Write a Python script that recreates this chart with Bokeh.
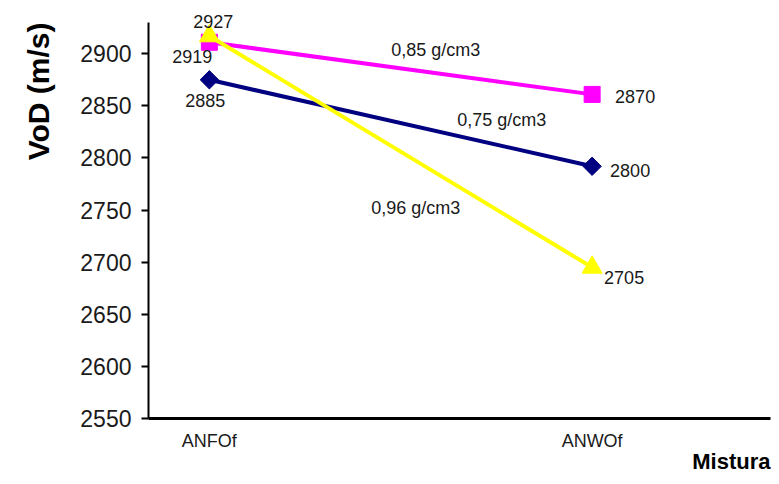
import math
from bokeh.plotting import figure
from bokeh.models import Range1d, FixedTicker, LabelSet, ColumnDataSource, Title
from bokeh.core.properties import value
from bokeh.embed import file_html
from bokeh.resources import INLINE

# ---- data ----
categories = ["ANFOf", "ANWOf"]
series_names = ["0,75 g/cm3", "0,85 g/cm3", "0,96 g/cm3"]
vod_075 = [2875, 2792]
vod_085 = [2911, 2861]
vod_096 = [2917, 2695]
labels_075 = ["2885", "2800"]
labels_085 = ["2919", "2870"]
labels_096 = ["2927", "2705"]
y_ticks = [2550, 2600, 2650, 2700, 2750, 2800, 2850, 2900]
y_axis_bounds = (2550, 2930)

FONT = "Liberation Sans"
xs = list(range(len(categories)))

p = figure(width=771, height=476, x_range=Range1d(-0.159, 1.466),
           y_range=Range1d(2550, 2941.5), output_backend="svg",
           toolbar_location=None, min_border_left=148, min_border_right=1,
           min_border_top=10, min_border_bottom=58)
p.outline_line_color = None
p.xgrid.visible = False
p.ygrid.visible = False
p.background_fill_color = "white"
p.border_fill_color = "white"

# y axis
p.yaxis.ticker = FixedTicker(ticks=y_ticks)
p.yaxis.bounds = y_axis_bounds
p.yaxis.axis_line_width = 2
p.yaxis.axis_line_color = "black"
p.yaxis.major_tick_line_color = "black"
p.yaxis.major_tick_line_width = 2
p.yaxis.major_tick_out = 7
p.yaxis.major_tick_in = 0
p.yaxis.minor_tick_line_color = None
p.yaxis.major_label_standoff = 10
p.yaxis.major_label_text_font = FONT
p.yaxis.major_label_text_font_size = "23px"
p.yaxis.major_label_text_color = "#1a1a1a"

# x axis
p.xaxis.ticker = FixedTicker(ticks=xs)
p.xaxis.major_label_overrides = {i: c for i, c in zip(xs, categories)}
p.xaxis.axis_line_width = 3
p.xaxis.axis_line_color = "black"
p.xaxis.major_tick_line_color = None
p.xaxis.minor_tick_line_color = None
p.xaxis.major_label_standoff = 6
p.xaxis.major_label_text_font = FONT
p.xaxis.major_label_text_font_size = "18px"
p.xaxis.major_label_text_color = "#1a1a1a"

series = [
    (vod_075, "#000080", "diamond"),
    (vod_085, "#FF00FF", "square"),
    (vod_096, "#FFFF00", "triangle"),
]

for vals, col, mk in series:
    p.line(xs, vals, line_color=col, line_width=4)
    if mk == "diamond":
        p.scatter(xs, vals, marker="square", angle=math.pi / 4, size=13,
                  fill_color=col, line_color=col)
    elif mk == "square":
        p.scatter(xs, vals, marker="square", size=16, fill_color=col, line_color=col)
    else:
        p.scatter(xs, vals, marker="triangle", size=20, fill_color=col, line_color=col)

# data labels (pixel offsets from their points; dy: screen pixels downward)
label_offsets = {
    "075": [(-4, 21), (38, 4)],
    "085": [(-17, 14), (43, 2)],
    "096": [(4, -15), (32, 10)],
}
lx, ly, lt, ldx, ldy = [], [], [], [], []
for key, vals, labs in [("075", vod_075, labels_075), ("085", vod_085, labels_085),
                        ("096", vod_096, labels_096)]:
    for i in xs:
        dx, dy = label_offsets[key][i]
        lx.append(xs[i]); ly.append(vals[i]); lt.append(labs[i])
        ldx.append(dx); ldy.append(-dy)

# series name labels near line midpoints
name_offsets = [(101, -3), (35, -18), (15, 56)]
for name, vals, (dx, dy) in zip(series_names, [vod_075, vod_085, vod_096], name_offsets):
    lx.append(0.5); ly.append(sum(vals) / 2); lt.append(name)
    ldx.append(dx); ldy.append(-dy)

src = ColumnDataSource(dict(x=lx, y=ly, text=lt, dx=ldx, dy=ldy))
p.add_layout(LabelSet(x="x", y="y", text="text", x_offset="dx", y_offset="dy",
                      source=src, text_align="center", text_baseline="middle",
                      text_font=value(FONT), text_font_size=value("18px"),
                      text_color="#1a1a1a"))

# axis titles
p.add_layout(Title(text="VoD (m/s)", align="right", vertical_align="top",
                   offset=12, standoff=41,
                   text_font=FONT, text_font_style="bold", text_font_size="30px",
                   text_color="black"), "left")
p.add_layout(Title(text="Mistura", align="right", vertical_align="top", standoff=-10,
                   text_font=FONT, text_font_style="bold", text_font_size="22px",
                   text_color="black"), "below")

open("out.html", "w").write(file_html(p, INLINE))
